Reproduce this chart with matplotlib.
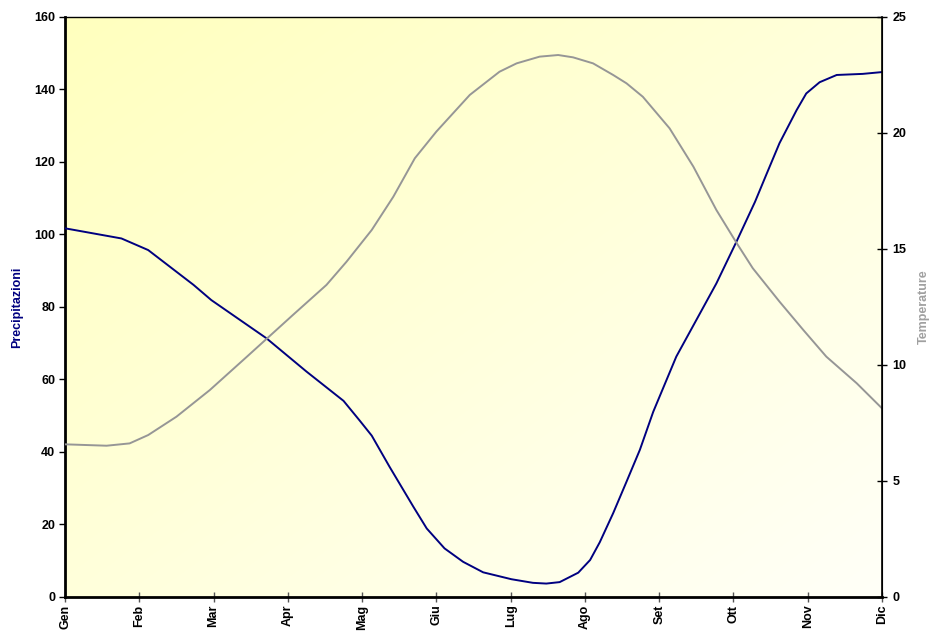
import numpy as np
import matplotlib.pyplot as plt

plt.rcParams['font.family'] = ['Liberation Sans', 'DejaVu Sans']

mesi = ['Gen', 'Feb', 'Mar', 'Apr', 'Mag', 'Giu', 'Lug', 'Ago', 'Set', 'Ott', 'Nov', 'Dic']

# precipitazioni (mm), posizione in mesi (0 = Gen)
prec_x = [0.0, 0.76, 1.12, 1.73, 1.97, 2.71, 3.25, 3.75, 3.97, 4.13, 4.37, 4.69,
          4.87, 5.11, 5.36, 5.63, 6.01, 6.30, 6.48, 6.66, 6.91, 7.07, 7.20, 7.38,
          7.56, 7.74, 7.92, 8.23, 8.50, 8.77, 9.04, 9.29, 9.44, 9.62, 9.85, 9.98,
          10.16, 10.39, 10.74, 11.0]
prec_y = [101.7, 98.9, 95.7, 86.1, 81.9, 71.4, 62.2, 54.1, 48.6, 44.5, 35.9, 24.9,
          18.9, 13.4, 9.7, 6.8, 4.9, 3.9, 3.7, 4.1, 6.7, 10.2, 15.1, 23.1,
          31.8, 40.6, 51.1, 66.3, 76.4, 86.5, 98.0, 109.0, 116.4, 125.2, 134.3, 138.9,
          142.0, 144.0, 144.3, 144.8]

# temperature (gradi C)
temp_x = [0.0, 0.56, 0.87, 1.12, 1.50, 1.95, 2.45, 3.07, 3.52, 3.79, 4.13, 4.42,
          4.71, 5.00, 5.45, 5.85, 6.08, 6.39, 6.64, 6.84, 7.11, 7.38, 7.56, 7.78,
          8.14, 8.46, 8.77, 9.04, 9.26, 9.62, 9.94, 10.25, 10.66, 11.0]
temp_y = [6.58, 6.52, 6.62, 6.98, 7.77, 8.92, 10.36, 12.16, 13.45, 14.45, 15.82, 17.25,
          18.91, 20.06, 21.64, 22.64, 23.0, 23.29, 23.36, 23.26, 23.0, 22.5, 22.14, 21.56,
          20.2, 18.55, 16.68, 15.27, 14.17, 12.73, 11.51, 10.36, 9.21, 8.13]

fig = plt.figure(figsize=(9.3, 6.38), dpi=100)
ax = fig.add_axes([0.0699, 0.0643, 0.8785, 0.9091])

# sfondo sfumato: giallo in alto a sinistra -> quasi bianco in basso a destra
g = np.linspace(0, 1, 200)
gx, gy = np.meshgrid(g, g)
t = np.clip((gx + gy) / 2, 0, 1)
c0 = np.array([255, 255, 190]) / 255
c1 = np.array([255, 255, 248]) / 255
img = c0 + (c1 - c0) * t[..., None]
ax.imshow(img, extent=[0, 1, 0, 1], transform=ax.transAxes, aspect='auto',
          origin='upper', zorder=0, interpolation='bilinear')

ax.plot(prec_x, prec_y, color='#000080', lw=1.4, zorder=3)
ax.set_xlim(0, 11)
ax.set_ylim(0, 160)
ax.set_yticks(range(0, 161, 20))
ax.set_xticks(range(12))
ax.set_xticklabels(mesi, rotation=90, fontweight='bold', fontsize=9)
ax.tick_params(axis='y', direction='out', length=4, width=1, labelsize=9, pad=3)
ax.tick_params(axis='x', direction='inout', length=7, width=1, color='#555555', pad=2)
for lbl in ax.get_yticklabels():
    lbl.set_fontweight('bold')
ax.set_ylabel('Precipitazioni', color='#000080', fontweight='bold', fontsize=9, labelpad=8)

ax.spines['left'].set_linewidth(2)
ax.spines['bottom'].set_linewidth(2)
ax.spines['top'].set_linewidth(1)

ax2 = ax.twinx()
ax2.patch.set_visible(False)
ax2.plot(temp_x, temp_y, color='#969696', lw=1.4, zorder=2)
ax2.set_ylim(0, 25)
ax2.set_yticks(range(0, 26, 5))
ax2.tick_params(axis='y', direction='inout', length=7, width=1, labelsize=9, pad=4)
for lbl in ax2.get_yticklabels():
    lbl.set_fontweight('bold')
ax2.set_ylabel('Temperature', color='#A0A0A0', fontweight='bold', fontsize=9, labelpad=8)
ax2.spines['right'].set_linewidth(1.2)
for s in ['left', 'bottom', 'top']:
    ax2.spines[s].set_visible(False)

fig.savefig('out.png', dpi=100)
